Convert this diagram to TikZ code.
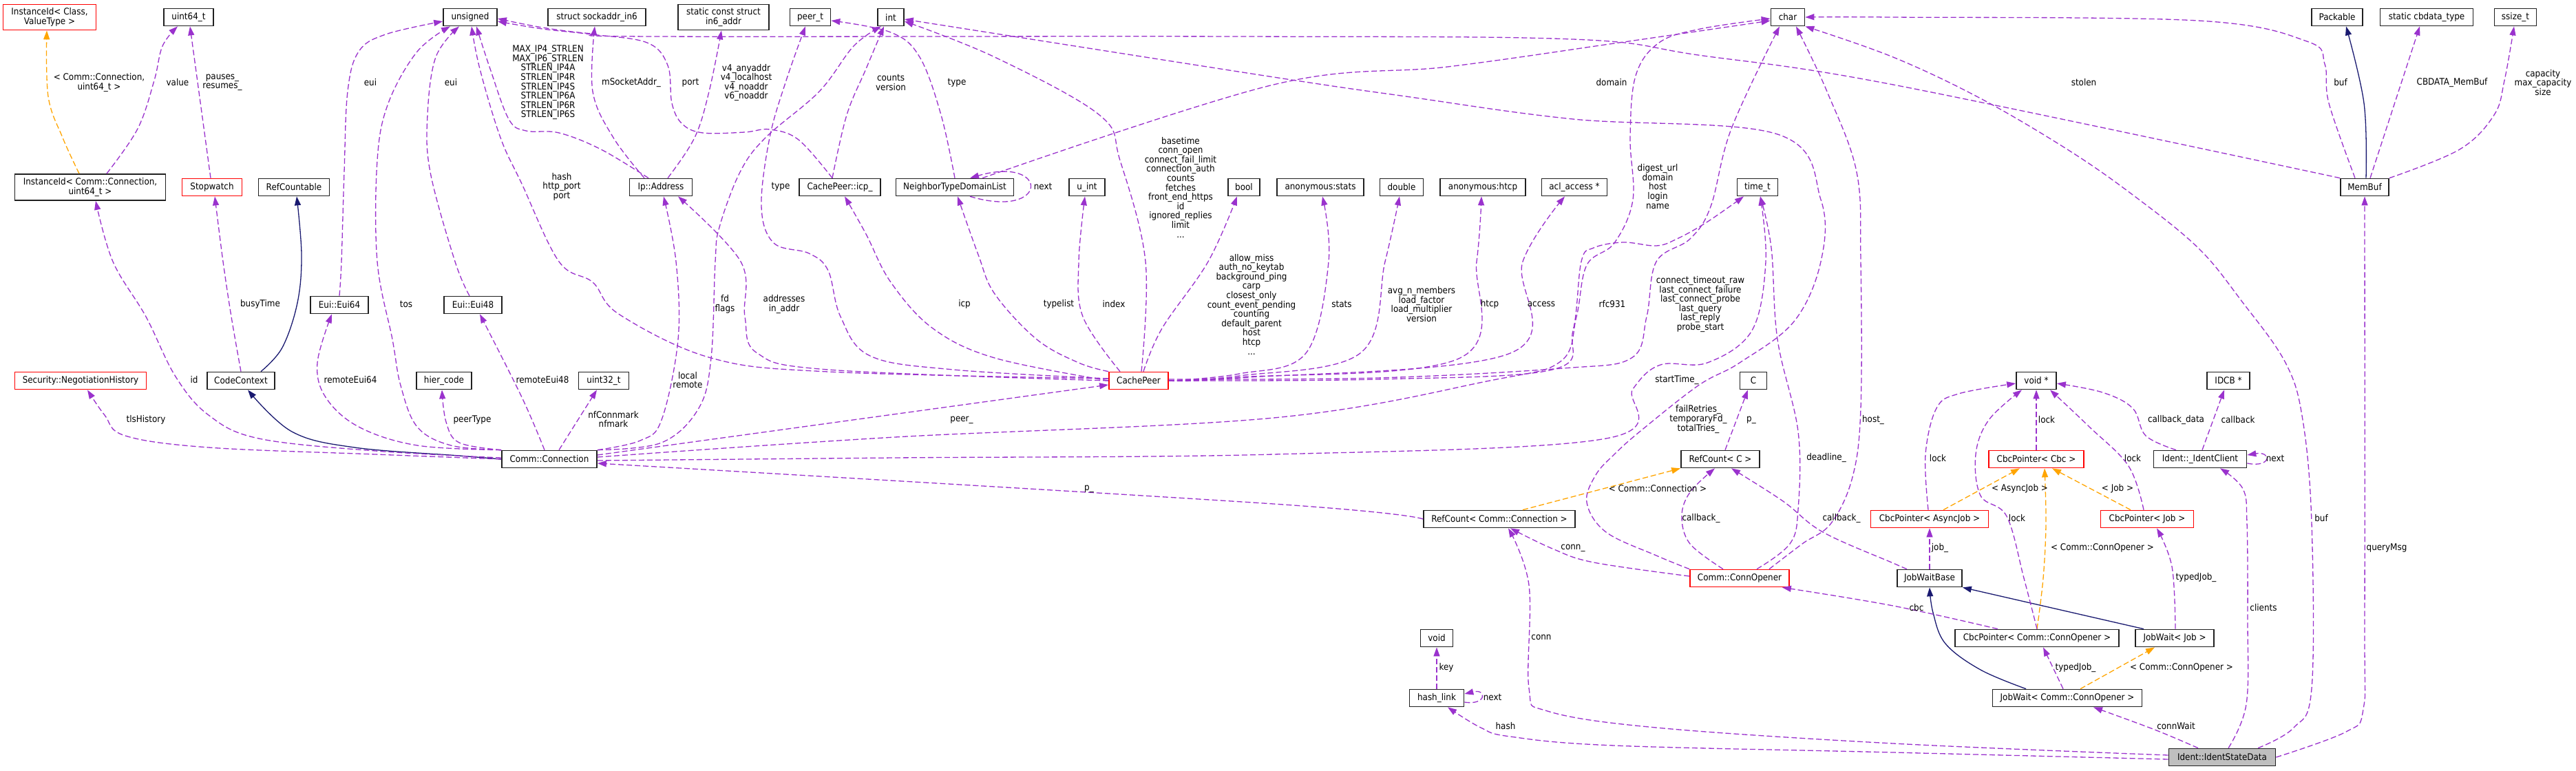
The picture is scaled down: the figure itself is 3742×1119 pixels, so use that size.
\documentclass[tikz,border=0pt]{standalone}
\usepackage{fontspec}
\setmainfont{DejaVu Sans}[FakeStretch=0.9]
\usetikzlibrary{arrows.meta}
\definecolor{purp}{HTML}{9A32CD}
\definecolor{navyc}{HTML}{191970}
\definecolor{orng}{HTML}{FFA500}
\definecolor{bord}{HTML}{202020}
\definecolor{greyf}{HTML}{BFBFBF}
\newcommand\dfont{\fontsize{13.3}{13.6}\selectfont}
\begin{document}
\begin{tikzpicture}[x=1pt,y=-1pt,
  nd/.style={draw=bord, line width=1.7pt, fill=white, minimum height=25pt, inner sep=2pt, font=\dfont, align=center, text=black},
  rd/.style={nd, draw=red},
  lb/.style={font=\dfont, align=center, inner sep=0pt, text=black},
  ue/.style={purp, line width=1.3pt, dash pattern=on 8pt off 4pt, -{Triangle[length=13pt,width=9pt]}},
  ie/.style={navyc, line width=1.3pt, -{Triangle[length=13pt,width=9pt]}},
  te/.style={orng, line width=1.3pt, dash pattern=on 8pt off 4pt, -{Triangle[length=13pt,width=9pt]}}]
\useasboundingbox[fill=white] (0,0) rectangle (3742,1119);

% ---------- nodes ----------
\node[rd, minimum width=135pt, minimum height=37pt] (iidCV) at (72,25) {InstanceId< Class,\\ValueType >};
\node[nd, minimum width=72pt] (u64) at (274,25) {uint64\_t};
\node[nd, minimum width=78pt] (uns) at (683,25) {unsigned};
\node[nd, minimum width=142pt] (sock6) at (867,25) {struct sockaddr\_in6};
\node[nd, minimum width=132pt, minimum height=37pt] (in6) at (1051,25) {static const struct\\in6\_addr};
\node[nd, minimum width=59pt] (peert) at (1177,25) {peer\_t};
\node[nd, minimum width=38pt] (intt) at (1294,25) {int};
\node[nd, minimum width=49pt] (chr) at (2597,25) {char};
\node[nd, minimum width=74pt] (pack) at (3395,25) {Packable};
\node[nd, minimum width=135pt] (cbdt) at (3525,25) {static cbdata\_type};
\node[nd, minimum width=61pt] (ssz) at (3654,25) {ssize\_t};

\node[nd, minimum width=219pt, minimum height=38pt] (iidCC) at (131,272) {InstanceId< Comm::Connection,\\uint64\_t >};
\node[rd, minimum width=87pt] (stopw) at (308,272) {Stopwatch};
\node[nd, minimum width=103pt] (refc) at (427,272) {RefCountable};
\node[nd, minimum width=91pt] (ipaddr) at (960,272) {Ip::Address};
\node[nd, minimum width=118pt] (icp) at (1220,272) {CachePeer::icp\_};
\node[nd, minimum width=171pt] (ntdl) at (1387,272) {NeighborTypeDomainList};
\node[nd, minimum width=52pt] (uint) at (1579,272) {u\_int};
\node[nd, minimum width=46pt] (bool) at (1807,272) {bool};
\node[nd, minimum width=126pt] (astats) at (1918,272) {anonymous:stats};
\node[nd, minimum width=63pt] (dbl) at (2036,272) {double};
\node[nd, minimum width=124pt] (ahtcp) at (2154,272) {anonymous:htcp};
\node[nd, minimum width=95pt] (acl) at (2287,272) {acl\_access *};
\node[nd, minimum width=59pt] (timet) at (2553,272) {time\_t};
\node[nd, minimum width=70pt] (membuf) at (3435,272) {MemBuf};

\node[nd, minimum width=84pt] (eui64) at (493,443) {Eui::Eui64};
\node[nd, minimum width=84pt] (eui48) at (687,443) {Eui::Eui48};

\node[rd, minimum width=191pt] (negh) at (117,553) {Security::NegotiationHistory};
\node[nd, minimum width=98pt] (cctx) at (350,553) {CodeContext};
\node[nd, minimum width=80pt] (hier) at (645,553) {hier\_code};
\node[nd, minimum width=73pt] (u32) at (877,553) {uint32\_t};
\node[rd, minimum width=86pt] (cpeer) at (1654,553) {CachePeer};
\node[nd, minimum width=39pt] (cC) at (2547,553) {C};
\node[nd, minimum width=58pt] (voidp) at (2958,553) {void *};
\node[nd, minimum width=62pt] (idcb) at (3237,553) {IDCB *};

\node[nd, minimum width=138pt] (conn) at (798,667) {Comm::Connection};
\node[nd, minimum width=114pt] (rcC) at (2499,667) {RefCount< C >};
\node[rd, minimum width=138pt] (cbcC) at (2958,667) {CbcPointer< Cbc >};
\node[nd, minimum width=135pt] (iclient) at (3196,667) {Ident::\_IdentClient};

\node[nd, minimum width=220pt] (rcConn) at (2178,754) {RefCount< Comm::Connection >};
\node[rd, minimum width=171pt] (cbcAJ) at (2803,754) {CbcPointer< AsyncJob >};
\node[rd, minimum width=135pt] (cbcJob) at (3119,754) {CbcPointer< Job >};

\node[rd, minimum width=144pt] (opener) at (2527,840) {Comm::ConnOpener};
\node[nd, minimum width=94pt] (jwb) at (2803,840) {JobWaitBase};

\node[nd, minimum width=47pt] (voidk) at (2087,927) {void};
\node[nd, minimum width=238pt] (cbcCO) at (2959,927) {CbcPointer< Comm::ConnOpener >};
\node[nd, minimum width=114pt] (jwJob) at (3159,927) {JobWait< Job >};

\node[nd, minimum width=79pt] (hlink) at (2087,1014) {hash\_link};
\node[nd, minimum width=217pt] (jwCO) at (3003,1014) {JobWait< Comm::ConnOpener >};

\node[nd, fill=greyf, minimum width=155pt] (isd) at (3228,1100) {Ident::IdentStateData};

% ---------- inheritance ----------
\draw[ie] plot[smooth,tension=.6] coordinates {([xshift=29pt]cctx.north) (410,505) (432,440) (438,370) ([xshift=4pt]refc.south)};
\draw[ie] plot[smooth,tension=.6] coordinates {(conn.west) (667,662) (515,650) (424,627) ([xshift=10pt]cctx.south)};
\draw[ie] plot[smooth,tension=.6] coordinates {([xshift=2pt]membuf.north) (3434,150) ([xshift=13pt]pack.south)};
\draw[ie] plot[smooth,tension=.6] coordinates {([xshift=-60pt]jwCO.north) (2877,973) (2826,935) (2808,890) (jwb.south)};
\draw[ie] ([xshift=-45pt]jwJob.north) -- (jwb.south east);

% ---------- template instances ----------
\draw[te] plot[smooth,tension=.6] coordinates {([xshift=-16pt]iidCC.north) (91,200) (70,140) ([xshift=-4pt]iidCV.south)};
\draw[te] ([xshift=34pt]rcConn.north) -- (rcC.south west);
\draw[te] ([xshift=20pt]cbcAJ.north) -- ([xshift=-24pt]cbcC.south);
\draw[te] ([xshift=-24pt]cbcJob.north) -- ([xshift=23pt]cbcC.south);
\draw[te] plot[smooth,tension=.6] coordinates {(cbcCO.north) (2968,840) (2972,760) ([xshift=12pt]cbcC.south)};
\draw[te] ([xshift=19pt]jwCO.north) -- ([xshift=-29pt]jwJob.south);

% ---------- usage ----------
\draw[ue] plot[smooth,tension=.6] coordinates {([xshift=24pt]iidCC.north) (200,187) (224,117) (236,67) ([xshift=-16pt]u64.south)};
\draw[ue] ([xshift=-2pt]stopw.north) -- ([xshift=2pt]u64.south);
\draw[ue] plot[smooth,tension=.6] coordinates {(eui64.north) (496,380) (500,250) (505,133) (521,75) (560,50) ([yshift=-6pt]uns.west)};
\draw[ue] plot[smooth,tension=.6] coordinates {([xshift=-5pt]eui48.north) (661,380) (625,250) (621,167) (633,83) ([xshift=-16pt]uns.south)};
\draw[ue] plot[smooth,tension=.6] coordinates {(conn.north west) (655,647) (606,620) (582,560) (570,493) (548,380) (548,233) (564,150) (606,75) ([xshift=-29pt]uns.south)};
\draw[ue] plot[smooth,tension=.6] coordinates {([yshift=3pt]cpeer.west) (1203,540) (1033,520) (900,457) (861,410) (812,380) (758,267) (727,200) (697,100) ([xshift=2pt]uns.south)};
\draw[ue] plot[smooth,tension=.6] coordinates {([xshift=-18pt]ipaddr.north) (873,217) (812,193) (764,190) (739,173) (712,100) ([xshift=9pt]uns.south)};
\draw[ue] plot[smooth,tension=.6] coordinates {([xshift=-24pt]ipaddr.north) (891,200) (861,133) ([xshift=-3pt]sock6.south)};
\draw[ue] plot[smooth,tension=.6] coordinates {([xshift=10pt]ipaddr.north) (1009,200) (1030,133) ([xshift=-3pt]in6.south)};
\draw[ue] plot[smooth,tension=.6] coordinates {([xshift=-11pt]icp.north) (1160,203) (1118,188) (1082,192) (1021,193) (991,180) (976,150) (970,95) (940,62) (860,50) (788,42) ([yshift=-6pt]uns.east)};
\draw[ue] plot[smooth,tension=.6] coordinates {([xshift=-11pt]icp.north) (1230,167) (1258,100) ([xshift=-10pt]intt.south)};
\draw[ue] plot[smooth,tension=.6] coordinates {(ntdl.north) (1367,167) (1336,83) (1294,47) ([yshift=-5pt]peert.east)};
\draw[ue] ([xshift=22pt]ntdl.south) .. controls (1525,320) and (1525,225) .. ([xshift=22pt]ntdl.north);
\draw[ue] plot[smooth,tension=.6] coordinates {([xshift=40pt]ntdl.north) (1850,123) (2103,97) (2345,63) ([yshift=-5pt]chr.west)};
\draw[ue] plot[smooth,tension=.6] coordinates {([yshift=3pt]cpeer.west) (1385,537) (1264,517) (1221,460) (1203,393) (1175,368) (1124,353) (1106,300) (1118,200) (1142,117) ([xshift=-7pt]peert.south)};
\draw[ue] plot[smooth,tension=.6] coordinates {(cpeer.west) (1445,520) (1355,477) (1294,410) (1258,340) ([xshift=7pt]icp.south)};
\draw[ue] plot[smooth,tension=.6] coordinates {(cpeer.north west) (1567,527) (1506,493) (1445,427) (1421,370) ([xshift=4pt]ntdl.south)};
\draw[ue] plot[smooth,tension=.6] coordinates {([xshift=-27pt]cpeer.north) (1573,460) (1567,380) ([xshift=-3pt]uint.south)};
\draw[ue] plot[smooth,tension=.6] coordinates {([xshift=4pt]cpeer.north) (1664,380) (1627,233) (1597,167) (1445,83) ([yshift=-6pt]intt.east)};
\draw[ue] plot[smooth,tension=.6] coordinates {([xshift=7pt]cpeer.north) (1688,477) (1755,380) ([xshift=-10pt]bool.south)};
\draw[ue] plot[smooth,tension=.6] coordinates {(cpeer.east) (1800,543) (1897,513) (1930,380) ([xshift=3pt]astats.south)};
\draw[ue] plot[smooth,tension=.6] coordinates {(cpeer.east) (1800,546) (1976,513) (2012,380) ([xshift=-3pt]dbl.south)};
\draw[ue] plot[smooth,tension=.6] coordinates {(cpeer.east) (1800,548) (2121,520) (2145,380) ([xshift=-2pt]ahtcp.south)};
\draw[ue] plot[smooth,tension=.6] coordinates {(cpeer.east) (1800,549) (2194,513) (2212,380) ([xshift=-14pt]acl.south)};
\draw[ue] plot[smooth,tension=.6] coordinates {([yshift=2pt]cpeer.east) (2000,549) (2270,535) (2370,520) (2392,460) (2406,380) (2455,347) (2485,300) (2515,187) ([xshift=-12pt]chr.south)};
\draw[ue] plot[smooth,tension=.6] coordinates {(cpeer.east) (2000,551) (2255,537) (2285,480) (2297,380) (2315,360) (2358,352) (2406,357) (2436,347) (2479,323) ([xshift=-20pt]timet.south)};
\draw[ue] ([yshift=6pt]conn.east) -- ([yshift=-6pt]cpeer.west);
\draw[ue] plot[smooth,tension=.6] coordinates {([yshift=-2pt]conn.east) (1300,665) (1850,660) (2333,637) (2372,565) (2412,530) (2480,527) (2545,480) (2565,380) ([xshift=4pt]timet.south)};
\draw[ue] plot[smooth,tension=.6] coordinates {([yshift=3pt]conn.east) (1300,635) (1850,607) (2164,553) (2267,525) (2290,460) (2305,385) (2345,353) (2372,290) (2368,200) (2376,110) (2410,62) (2470,42) ([yshift=-2pt]chr.west)};
\draw[ue] plot[smooth,tension=.6] coordinates {([yshift=2pt]conn.west) (545,655) (376,637) (303,603) (255,547) (212,460) (164,380) ([xshift=8pt]iidCC.south)};
\draw[ue] plot[smooth,tension=.6] coordinates {(cctx.north) (336,460) (324,380) ([xshift=4pt]stopw.south)};
\draw[ue] plot[smooth,tension=.6] coordinates {(conn.north west) (606,647) (521,620) (473,577) (461,527) ([xshift=-11pt]eui64.south)};
\draw[ue] plot[smooth,tension=.6] coordinates {([xshift=-7pt]conn.north) (758,577) ([xshift=10pt]eui48.south)};
\draw[ue] plot[smooth,tension=.6] coordinates {(conn.north west) (667,643) (648,613) ([xshift=-3pt]hier.south)};
\draw[ue] ([xshift=14pt]conn.north) -- ([xshift=-10pt]u32.south);
\draw[ue] plot[smooth,tension=.6] coordinates {(conn.west) (545,660) (303,650) (182,633) (152,603) ([xshift=10pt]negh.south)};
\draw[ue] plot[smooth,tension=.6] coordinates {(conn.north east) (930,640) (961,610) (985,493) (982,380) ([xshift=4pt]ipaddr.south)};
\draw[ue] plot[smooth,tension=.6] coordinates {(conn.north east) (961,643) (1015,593) (1033,520) (1039,380) (1045,330) (1075,250) (1112,200) (1190,133) (1240,67) ([xshift=-14pt]intt.south)};
\draw[ue] plot[smooth,tension=.6] coordinates {(cpeer.west) (1203,537) (1100,513) (1082,460) (1076,380) ([xshift=25pt]ipaddr.south)};
\draw[ue] plot[smooth,tension=.6] coordinates {(rcConn.west) (1850,732) ([yshift=-6pt]conn.east)};
\draw[ue] ([xshift=7pt]rcC.north) -- ([xshift=-8pt]cC.south);
\draw[ue] plot[smooth,tension=.6] coordinates {([yshift=3pt]opener.west) (2315,817) (2255,797) ([xshift=16pt]rcConn.south)};
\draw[ue] plot[smooth,tension=.6] coordinates {([yshift=3pt]isd.west) (2750,1080) (2406,1057) (2248,1033) (2221,1000) (2221,850) ([xshift=13pt]rcConn.south)};
\draw[ue] plot[smooth,tension=.6] coordinates {([yshift=-3pt]isd.west) (2750,1093) (2345,1083) (2194,1070) (2151,1057) ([xshift=16pt]hlink.south)};
\draw[ue] (hlink.north) -- (voidk.south);
\draw[ue] ([yshift=-6pt]hlink.east) .. controls (2160,1025) and (2160,1000) .. ([yshift=6pt]hlink.east);
\draw[ue] plot[smooth,tension=.6] coordinates {([xshift=-24pt]opener.north) (2455,790) (2443,750) (2455,715) ([xshift=-8pt]rcC.south)};
\draw[ue] plot[smooth,tension=.6] coordinates {([xshift=-33pt]jwb.north) (2750,818) (2648,773) (2590,728) ([xshift=16pt]rcC.south)};
\draw[ue] plot[smooth,tension=.6] coordinates {(opener.north west) (2406,807) (2333,773) (2305,730) (2318,690) (2345,660) (2382,627) (2467,560) (2527,527) (2606,467) (2645,380) (2645,290) (2582,195) (2285,173) (2042,140) (1850,112) ([yshift=-3pt]intt.east)};
\draw[ue] plot[smooth,tension=.6] coordinates {([xshift=43pt]opener.north) (2618,790) (2660,760) (2691,693) (2703,593) (2703,380) (2697,250) (2654,133) ([xshift=12pt]chr.south)};
\draw[ue] plot[smooth,tension=.6] coordinates {([xshift=25pt]opener.north) (2600,790) (2612,740) (2612,627) (2582,493) (2573,360) ([xshift=4pt]timet.south)};
\draw[ue] plot[smooth,tension=.6] coordinates {([xshift=-57pt]cbcCO.north) (2750,880) ([xshift=-11pt]opener.south east)};
\draw[ue] plot[smooth,tension=.6] coordinates {([xshift=-2pt]cbcAJ.north) (2797,660) (2813,593) (2845,572) ([yshift=-4pt]voidp.west)};
\draw[ue] (cbcC.north) -- (voidp.south);
\draw[ue] plot[smooth,tension=.6] coordinates {(cbcCO.north) (2940,840) (2915,750) (2877,720) (2870,660) (2889,610) ([xshift=-21pt]voidp.south)};
\draw[ue] plot[smooth,tension=.6] coordinates {([xshift=-5pt]cbcJob.north) (3092,677) (3035,620) ([xshift=20pt]voidp.south)};
\draw[ue] plot[smooth,tension=.6] coordinates {([xshift=-35pt]iclient.north) (3117,633) (3098,593) (3054,570) ([yshift=-4pt]voidp.east)};
\draw[ue] ([xshift=3pt]iclient.north) -- ([xshift=-6pt]idcb.south);
\draw[ue] ([yshift=-6pt]iclient.east) .. controls (3300,680) and (3300,655) .. ([yshift=6pt]iclient.east);
\draw[ue] plot[smooth,tension=.6] coordinates {([xshift=9pt]isd.north) (3263,1023) (3265,900) (3264,760) (3258,710) ([xshift=29pt]iclient.south)};
\draw[ue] plot[smooth,tension=.6] coordinates {([xshift=52pt]isd.north) (3332,1057) (3358,1000) (3358,760) (3345,610) (3320,527) (3256,437) (3193,360) (3098,283) (3003,217) (2877,143) (2750,83) (chr.south east)};
\draw[ue] plot[smooth,tension=.6] coordinates {(isd.east) (3408,1063) (3433,1030) (3435,900) (membuf.south)};
\draw[ue] plot[smooth,tension=.6] coordinates {([xshift=-35pt]isd.north) (3130,1060) ([xshift=38pt]jwCO.south)};
\draw[ue] ([xshift=-6pt]jwCO.north) -- ([xshift=9pt]cbcCO.south);
\draw[ue] plot[smooth,tension=.6] coordinates {([xshift=1pt]jwJob.north) (3155,823) ([xshift=14pt]cbcJob.south)};
\draw[ue] (jwb.north) -- (cbcAJ.south);
\draw[ue] plot[smooth,tension=.6] coordinates {([xshift=-14pt]membuf.north) (3383,150) (3377,93) (3351,60) (3193,30) (2750,25) (chr.east)};
\draw[ue] plot[smooth,tension=.6] coordinates {(membuf.north west) (2750,123) (2467,80) (2285,57) (1800,53) (950,53) (861,49) (788,40) ([yshift=-2pt]uns.east)};
\draw[ue] ([xshift=8pt]membuf.north) -- ([xshift=-10pt]cbdt.south);
\draw[ue] plot[smooth,tension=.6] coordinates {(membuf.north east) (3573,217) (3623,167) (3638,117) ([xshift=-2pt]ssz.south)};

% ---------- labels ----------
\node[lb] (a1) at (144,120) {< Comm::Connection,\\uint64\_t >};
\node[lb] (a2) at (258,120) {value};
\node[lb] (a3) at (323,120) {pauses\_\\resumes\_};
\node[lb] (a4) at (538,120) {eui};
\node[lb] (a5) at (655,120) {eui};
\node[lb] (a6) at (796,120) {MAX\_IP4\_STRLEN\\MAX\_IP6\_STRLEN\\STRLEN\_IP4A\\STRLEN\_IP4R\\STRLEN\_IP4S\\STRLEN\_IP6A\\STRLEN\_IP6R\\STRLEN\_IP6S};
\node[lb] (a7) at (917,120) {mSocketAddr\_};
\node[lb] (a8) at (1003,120) {port};
\node[lb] (a9) at (1084,120) {v4\_anyaddr\\v4\_localhost\\v4\_noaddr\\v6\_noaddr};
\node[lb] (a10) at (1294,120) {counts\\version};
\node[lb] (a11) at (1390,120) {type};
\node[lb] (a12) at (2341,120) {domain};
\node[lb] (a13) at (3027,120) {stolen};
\node[lb] (a14) at (3400,120) {buf};
\node[lb] (a15) at (3562,120) {CBDATA\_MemBuf};
\node[lb] (a16) at (3694,120) {capacity\\max\_capacity\\size};

\node[lb] (b1) at (816,271) {hash\\http\_port\\port};
\node[lb] (b2) at (1134,271) {type};
\node[lb] (b3) at (1515,271) {next};
\node[lb] (b4) at (1715,272) {basetime\\conn\_open\\connect\_fail\_limit\\connection\_auth\\counts\\fetches\\front\_end\_https\\id\\ignored\_replies\\limit\\...};
\node[lb] (b5) at (2408,271) {digest\_url\\domain\\host\\login\\name};

\node[lb] (c1) at (378,442) {busyTime};
\node[lb] (c2) at (590,442) {tos};
\node[lb] (c3) at (1053,442) {fd\\flags};
\node[lb] (c4) at (1139,442) {addresses\\in\_addr};
\node[lb] (c5) at (1401,442) {icp};
\node[lb] (c6) at (1538,442) {typelist};
\node[lb] (c7) at (1618,442) {index};
\node[lb] (c8) at (1818,442) {allow\_miss\\auth\_no\_keytab\\background\_ping\\carp\\closest\_only\\count\_event\_pending\\counting\\default\_parent\\host\\htcp\\...};
\node[lb] (c9) at (1949,442) {stats};
\node[lb] (c10) at (2065,442) {avg\_n\_members\\load\_factor\\load\_multiplier\\version};
\node[lb] (c11) at (2164,442) {htcp};
\node[lb] (c12) at (2239,442) {access};
\node[lb] (c13) at (2342,442) {rfc931};
\node[lb] (c14) at (2470,442) {connect\_timeout\_raw\\last\_connect\_failure\\last\_connect\_probe\\last\_query\\last\_reply\\probe\_start};

\node[lb] (d1) at (282,552) {id};
\node[lb] (d2) at (509,552) {remoteEui64};
\node[lb] (d3) at (788,552) {remoteEui48};
\node[lb] (d4) at (999,552) {local\\remote};
\node[lb] (d5) at (2436,552) {startTime\_};

\node[lb] (e1) at (212,610) {tlsHistory};
\node[lb] (e2) at (686,610) {peerType};
\node[lb] (e3) at (891,609) {nfConnmark\\nfmark};
\node[lb] (e4) at (1397,610) {peer\_};
\node[lb] (e5) at (2467,609) {failRetries\_\\temporaryFd\_\\totalTries\_};
\node[lb] (e6) at (2544,610) {p\_};
\node[lb] (e7) at (2721,610) {host\_};
\node[lb] (e8) at (2973,610) {lock};
\node[lb] (e9) at (3161,610) {callback\_data};
\node[lb] (e10) at (3251,610) {callback};

\node[lb] (f1) at (2653,665) {deadline\_};
\node[lb] (f2) at (2815,666) {lock};
\node[lb] (f3) at (3098,666) {lock};
\node[lb] (f4) at (3305,666) {next};

\node[lb] (g1) at (1582,710) {p\_};
\node[lb] (g2) at (2408,710) {< Comm::Connection >};
\node[lb] (g3) at (2934,710) {< AsyncJob >};
\node[lb] (g4) at (3076,710) {< Job >};

\node[lb] (h1) at (2471,753) {callback\_};
\node[lb] (h2) at (2675,753) {callback\_};
\node[lb] (h3) at (2930,753) {lock};
\node[lb] (h4) at (3372,753) {buf};

\node[lb] (i1) at (2285,796) {conn\_};
\node[lb] (i2) at (2818,796) {job\_};
\node[lb] (i3) at (3054,796) {< Comm::ConnOpener >};
\node[lb] (i4) at (3467,796) {queryMsg};

\node[lb] (j1) at (3190,839) {typedJob\_};
\node[lb] (j2) at (2784,883) {cbc};
\node[lb] (j3) at (3288,883) {clients};
\node[lb] (j4) at (2239,926) {conn};
\node[lb] (j5) at (2101,970) {key};
\node[lb] (j6) at (3015,970) {typedJob\_};
\node[lb] (j7) at (3169,970) {< Comm::ConnOpener >};
\node[lb] (j8) at (2168,1013) {next};
\node[lb] (j9) at (2187,1055) {hash};
\node[lb] (j10) at (3161,1055) {connWait};
\end{tikzpicture}
\end{document}
